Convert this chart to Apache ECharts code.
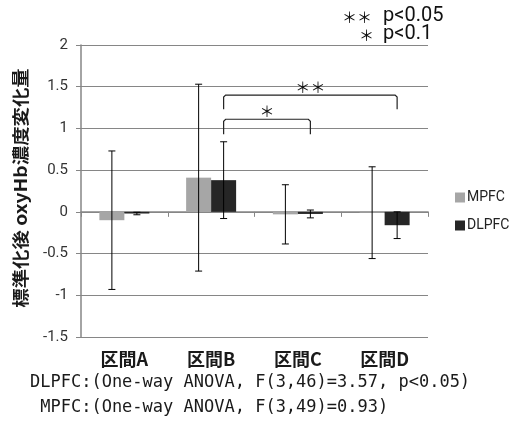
<!DOCTYPE html>
<html>
<head>
<meta charset="utf-8">
<script src="https://cdn.jsdelivr.net/npm/echarts@6/dist/echarts.min.js"></script>
<style>
  html, body { margin: 0; padding: 0; background: #ffffff; }
  #chart { width: 513px; height: 425px; }
</style>
</head>
<body>
<div id="chart"></div>
<script>
// Intervals and per-region means / standard deviations of normalized oxyHb change
const categories = ['区間A', '区間B', '区間C', '区間D'];
const mpfcMean = [-0.10, 0.41, -0.03, -0.01];
const mpfcSD   = [0.83, 1.12, 0.355, 0.55];
const dlpfcMean = [-0.02, 0.38, -0.025, -0.16];
const dlpfcSD   = [0.015, 0.46, 0.047, 0.16];
const yTicks = { min: -1.5, max: 2, interval: 0.5 };
const yTitle = '標準化後 oxyHb濃度変化量';

// Significance brackets: from interval, to interval, bracket top, bracket ends, mark
const bracketFrom = [1, 1];
const bracketTo   = [2, 3];
const bracketTop  = [1.11, 1.40];
const bracketEnd  = [0.93, 1.23];
const bracketMark = ['＊', '＊＊'];

const footLines = [
  'DLPFC:(One-way ANOVA, F(3,46)=3.57, p<0.05)',
  ' MPFC:(One-way ANOVA, F(3,49)=0.93)'
];

const BAR_W = 25;
const GRID_COLOR = '#868686';

const chart = echarts.init(document.getElementById('chart'), null, { renderer: 'canvas' });

function errData(means, sds) {
  return means.map((m, i) => [i, m - sds[i], m + sds[i]]);
}

function errRenderer(offset) {
  return function (params, api) {
    const idx = api.value(0);
    const x = api.coord([idx, 0])[0] + offset;
    const yLo = api.coord([idx, api.value(1)])[1];
    const yHi = api.coord([idx, api.value(2)])[1];
    const cap = 3.5;
    const style = { stroke: '#000000', lineWidth: 1, fill: null };
    return {
      type: 'group',
      children: [
        { type: 'line', shape: { x1: x, y1: yHi, x2: x, y2: yLo }, style },
        { type: 'line', shape: { x1: x - cap, y1: yHi, x2: x + cap, y2: yHi }, style },
        { type: 'line', shape: { x1: x - cap, y1: yLo, x2: x + cap, y2: yLo }, style }
      ]
    };
  };
}

const bracketData = bracketFrom.map((f, i) => [f, bracketTo[i], bracketTop[i], bracketEnd[i], i]);

function bracketRenderer(params, api) {
  const a = api.value(0), b = api.value(1);
  const top = api.value(2), end = api.value(3);
  const k = api.value(4);
  const x1 = api.coord([a, 0])[0] + BAR_W / 2;
  const x2 = api.coord([b, 0])[0] + BAR_W / 2;
  const yT = api.coord([a, top])[1];
  const yE = api.coord([a, end])[1];
  const r = 2;
  return {
    type: 'group',
    children: [
      {
        type: 'polyline',
        shape: {
          points: [[x1, yE], [x1, yT + r], [x1 + r, yT], [x2 - r, yT], [x2, yT + r], [x2, yE]]
        },
        style: { stroke: '#222222', lineWidth: 1.2, fill: null }
      },
      {
        type: 'text',
        x: (x1 + x2) / 2,
        y: yT - 8,
        style: {
          text: bracketMark[k],
          font: '15px "Noto Sans CJK JP"',
          fill: '#111111',
          align: 'center',
          verticalAlign: 'middle'
        }
      }
    ]
  };
}

const option = {
  backgroundColor: '#ffffff',
  animation: false,
  grid: { left: 81, right: 85, top: 45, bottom: 88, containLabel: false, outerBoundsMode: 'none' },
  legend: {
    data: ['MPFC', 'DLPFC'],
    orient: 'vertical',
    left: 455,
    top: 190,
    padding: 0,
    icon: 'rect',
    itemWidth: 10,
    itemHeight: 10,
    itemGap: 13,
    textStyle: {
      fontFamily: 'Roboto',
      fontSize: 14,
      lineHeight: 15,
      color: '#222222',
      padding: [0, 0, 0, -3]
    }
  },
  xAxis: [
    {
      type: 'category',
      data: categories,
      axisLine: { onZero: true, lineStyle: { color: GRID_COLOR, width: 1.5 } },
      axisTick: { show: true, length: 5, lineStyle: { color: GRID_COLOR } },
      axisLabel: { show: false },
      splitLine: { show: false }
    },
    {
      type: 'category',
      data: categories,
      position: 'bottom',
      axisLine: { show: false, onZero: false },
      axisTick: { show: false },
      axisLabel: {
        margin: 13,
        fontFamily: '"Noto Sans CJK JP"',
        fontWeight: 'bold',
        fontSize: 18,
        color: '#1a1a1a'
      }
    }
  ],
  yAxis: {
    type: 'value',
    min: yTicks.min,
    max: yTicks.max,
    interval: yTicks.interval,
    axisLine: { show: true, lineStyle: { color: GRID_COLOR, width: 1.5 } },
    axisTick: { show: true, length: 5, lineStyle: { color: GRID_COLOR } },
    axisLabel: {
      margin: 13,
      fontFamily: 'Roboto',
      fontSize: 15,
      color: '#333333'
    },
    splitLine: { show: true, lineStyle: { color: GRID_COLOR, width: 1 } }
  },
  series: [
    {
      name: 'MPFC',
      type: 'bar',
      data: mpfcMean,
      barWidth: BAR_W,
      barGap: '0%',
      itemStyle: { color: '#a6a6a6' }
    },
    {
      name: 'DLPFC',
      type: 'bar',
      data: dlpfcMean,
      barWidth: BAR_W,
      barGap: '0%',
      itemStyle: { color: '#262626' }
    },
    {
      name: 'MPFC SD',
      type: 'custom',
      renderItem: errRenderer(-BAR_W / 2),
      data: errData(mpfcMean, mpfcSD),
      z: 5
    },
    {
      name: 'DLPFC SD',
      type: 'custom',
      renderItem: errRenderer(BAR_W / 2),
      data: errData(dlpfcMean, dlpfcSD),
      z: 5
    },
    {
      name: 'brackets',
      type: 'custom',
      renderItem: bracketRenderer,
      data: bracketData,
      z: 6
    }
  ],
  graphic: [
    {
      // vertical axis title, slightly elongated along its reading direction
      type: 'text',
      x: 21, y: 188,
      rotation: Math.PI / 2,
      scaleX: 1.14,
      style: {
        text: yTitle,
        font: 'bold 17px "Noto Sans CJK JP"',
        fill: '#1a1a1a',
        align: 'center',
        verticalAlign: 'middle'
      }
    },
    {
      type: 'text', left: 342, top: 10,
      style: { text: '＊＊', font: '15px "Noto Sans CJK JP"', fill: '#111111' }
    },
    {
      type: 'text', left: 383, top: 6,
      style: { text: 'p<0.05', font: '20px Roboto', fill: '#111111' }
    },
    {
      type: 'text', left: 359, top: 28,
      style: { text: '＊', font: '15px "Noto Sans CJK JP"', fill: '#111111' }
    },
    {
      type: 'text', left: 383, top: 24,
      style: { text: 'p<0.1', font: '20px Roboto', fill: '#111111' }
    },
    {
      type: 'text', left: 30, top: 374,
      style: { text: footLines[0], font: '17px "DejaVu Sans Mono"', fill: '#1a1a1a' }
    },
    {
      type: 'text', left: 30, top: 399,
      style: { text: footLines[1], font: '17px "DejaVu Sans Mono"', fill: '#1a1a1a' }
    }
  ]
};

chart.setOption(option);
</script>
</body>
</html>
